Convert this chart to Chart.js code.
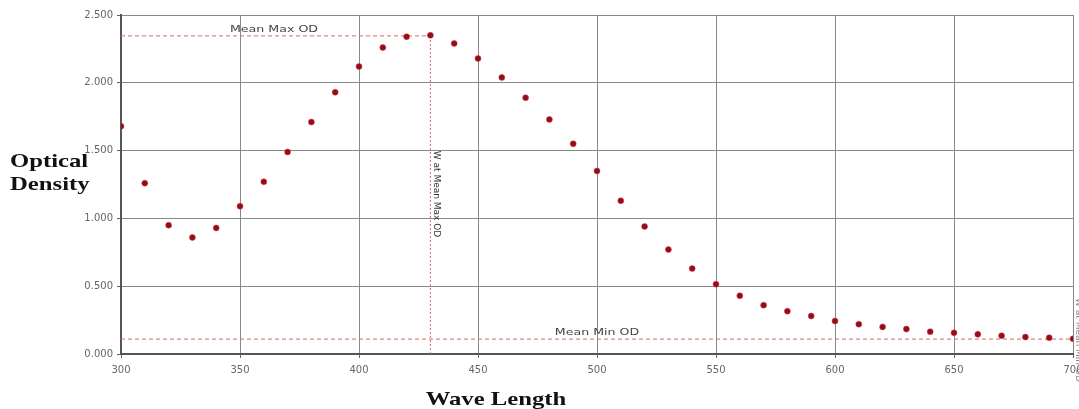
<!DOCTYPE html>
<html>
<head>
<meta charset="utf-8">
<script src="https://cdn.jsdelivr.net/npm/chart.js@4/dist/chart.umd.min.js"></script>
<style>
  html, body { margin: 0; padding: 0; background: #fff; }
  #wrap { width: 1079px; height: 409px; }
</style>
</head>
<body>
<div id="wrap"><canvas id="odChart" width="1079" height="409"></canvas></div>
<script>
// Wave length (nm) and optical density readings
const waveLengths = [300, 310, 320, 330, 340, 350, 360, 370, 380, 390,
                     400, 410, 420, 430, 440, 450, 460, 470, 480, 490,
                     500, 510, 520, 530, 540, 550, 560, 570, 580, 590,
                     600, 610, 620, 630, 640, 650, 660, 670, 680, 690, 700];
const opticalDensity = [1.68, 1.26, 0.95, 0.86, 0.93, 1.09, 1.27, 1.49, 1.71, 1.93,
                        2.12, 2.26, 2.34, 2.35, 2.29, 2.18, 2.04, 1.89, 1.73, 1.55,
                        1.35, 1.13, 0.94, 0.77, 0.63, 0.515, 0.43, 0.36, 0.316, 0.28,
                        0.243, 0.22, 0.2, 0.184, 0.165, 0.156, 0.145, 0.135, 0.125, 0.12, 0.112];

// reference lines
const meanMaxOD = 2.346;
const meanMinOD = 0.11;
const waveAtMeanMax = 430;

const xTicks = [300, 350, 400, 450, 500, 550, 600, 650, 700];
const yTicks = [0, 0.5, 1.0, 1.5, 2.0, 2.5];

// draws axis titles and reference labels (stretched like the original)
const labelPlugin = {
    id: 'odLabels',
    afterDraw(chart) {
        const ctx = chart.ctx;
        const xs = chart.scales.x;
        const ys = chart.scales.y;

        function stretched(text, x, y, font, sx, color, align) {
            ctx.save();
            ctx.font = font;
            ctx.fillStyle = color;
            ctx.textBaseline = 'alphabetic';
            ctx.translate(x, y);
            ctx.scale(sx, 1);
            const w = ctx.measureText(text).width;
            let dx = 0;
            if (align === 'center') dx = -w / 2;
            ctx.fillText(text, dx, 0);
            ctx.restore();
        }

        // y axis title
        stretched('Optical', 10, 167, 'bold 19px "Liberation Serif"', 1.3, '#111', 'left');
        stretched('Density', 10, 190, 'bold 19px "Liberation Serif"', 1.3, '#111', 'left');
        // x axis title
        stretched('Wave Length', 496, 405, 'bold 19px "Liberation Serif"', 1.3, '#111', 'center');

        // reference line labels
        stretched('Mean Max OD', 274, 32, '9px "DejaVu Sans"', 1.4, '#444', 'center');
        stretched('Mean Min OD', xs.getPixelForValue(500), ys.getPixelForValue(meanMinOD) - 4,
                  '9px "DejaVu Sans"', 1.4, '#444', 'center');

        // vertical label next to W line
        ctx.save();
        ctx.translate(xs.getPixelForValue(waveAtMeanMax) + 4, 194);
        ctx.rotate(Math.PI / 2);
        ctx.font = '9px "DejaVu Sans"';
        ctx.fillStyle = '#333';
        ctx.textAlign = 'center';
        ctx.fillText('W at Mean Max OD', 0, 0);
        ctx.restore();

        // cut-off label at the right edge
        ctx.save();
        ctx.translate(1076, 340);
        ctx.rotate(Math.PI / 2);
        ctx.font = '9px "DejaVu Sans"';
        ctx.fillStyle = '#888';
        ctx.textAlign = 'center';
        ctx.fillText('W at Mean Min OD', 0, 0);
        ctx.restore();
    }
};

const refLine = (points, dash) => ({
    data: points,
    showLine: true,
    borderColor: '#e06666',
    borderWidth: 1,
    borderDash: dash,
    pointRadius: 0,
    fill: false
});

const ctx = document.getElementById('odChart');
new Chart(ctx, {
    type: 'scatter',
    data: {
        datasets: [
            {
                label: 'Optical Density',
                data: waveLengths.map((w, i) => ({ x: w, y: opticalDensity[i] })),
                backgroundColor: '#8e0f1a',
                borderColor: 'rgba(225, 60, 60, 0.5)',
                borderWidth: 1,
                pointRadius: 3,
                pointHoverRadius: 3
            },
            refLine([{ x: 300, y: meanMaxOD }, { x: waveAtMeanMax, y: meanMaxOD }], [4, 3]),
            refLine([{ x: 300, y: meanMinOD }, { x: 700, y: meanMinOD }], [4, 3]),
            refLine([{ x: waveAtMeanMax, y: 0 }, { x: waveAtMeanMax, y: meanMaxOD }], [2, 2])
        ]
    },
    options: {
        responsive: false,
        animation: false,
        devicePixelRatio: 1,
        layout: { padding: { top: 15, right: 6, left: 0, bottom: 0 } },
        plugins: {
            legend: { display: false },
            tooltip: { enabled: false }
        },
        scales: {
            x: {
                type: 'linear',
                min: 300,
                max: 700,
                afterBuildTicks(scale) {
                    scale.ticks = xTicks.map(v => ({ value: v }));
                },
                ticks: {
                    color: '#666',
                    font: { family: 'DejaVu Sans', size: 10 },
                    padding: 6,
                    maxRotation: 0
                },
                grid: { color: '#888', lineWidth: 1, tickLength: 4, tickColor: '#666' },
                border: { color: '#555', width: 2 },
                afterFit(scale) {
                    scale.height = 55;
                    scale.paddingLeft = 0;
                    scale.paddingRight = 0;
                }
            },
            y: {
                min: 0,
                max: 2.5,
                afterBuildTicks(scale) {
                    scale.ticks = yTicks.map(v => ({ value: v }));
                },
                ticks: {
                    color: '#666',
                    font: { family: 'DejaVu Sans', size: 10 },
                    padding: 4,
                    callback: v => v.toFixed(3)
                },
                grid: { color: '#888', lineWidth: 1, tickLength: 4, tickColor: '#666' },
                border: { color: '#555', width: 2 },
                afterFit(scale) {
                    scale.width = 121;
                    scale.paddingTop = 0;
                    scale.paddingBottom = 0;
                }
            }
        }
    },
    plugins: [labelPlugin]
});
</script>
</body>
</html>
